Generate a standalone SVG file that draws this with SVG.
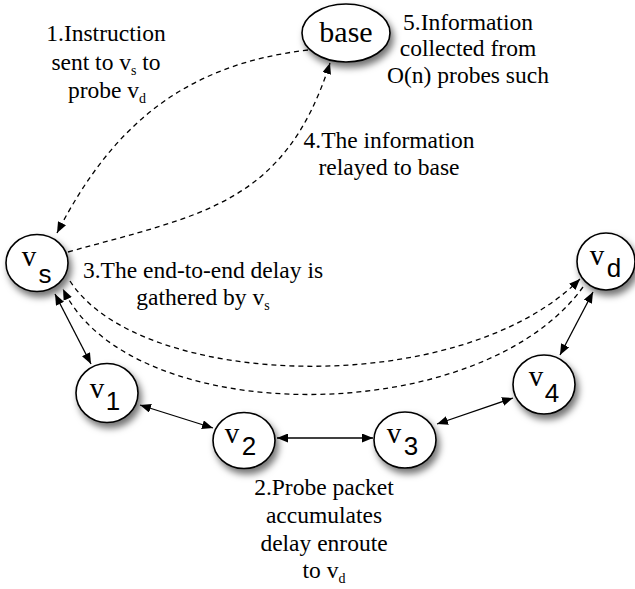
<svg xmlns="http://www.w3.org/2000/svg" width="635" height="589" viewBox="0 0 635 589">
  <style>
    .node { fill: #fff; stroke: #000; stroke-width: 1.6; filter: url(#shadow); }
    .nv { font-family: "Liberation Serif", "Times New Roman", serif; font-size: 29px; text-anchor: middle; fill: #000; }
    .ns { font-family: "Liberation Sans", Arial, sans-serif; font-size: 26px; text-anchor: middle; fill: #000; }
    .lbl { font-family: "Liberation Serif", "Times New Roman", serif; font-size: 23.5px; text-anchor: middle; fill: #000; }
    .sub { font-size: 14px; }
    .link { fill: none; stroke: #000; stroke-width: 1.3; marker-start: url(#head); marker-end: url(#head); }
    .dash { fill: none; stroke: #000; stroke-width: 1.3; stroke-dasharray: 5 4; marker-end: url(#head); }
  </style>
  <defs>
    <filter id="shadow" x="-40%" y="-40%" width="200%" height="200%">
      <feDropShadow dx="3" dy="5" stdDeviation="3.5" flood-color="#000" flood-opacity="0.55"/>
    </filter>
    <marker id="head" markerUnits="userSpaceOnUse" markerWidth="11" markerHeight="9" refX="11" refY="4.5" orient="auto-start-reverse">
      <path d="M0,0 L11,4.5 L0,9 z" fill="#000" stroke="none"/>
    </marker>
  </defs>

  <rect width="635" height="589" fill="#fff"/>

  <!-- connectors -->
  <g id="connectors">
    <line class="link" x1="55" y1="294" x2="91" y2="364"/>
    <line class="link" x1="140" y1="405" x2="213" y2="428"/>
    <line class="link" x1="277" y1="438" x2="373" y2="438"/>
    <line class="link" x1="437" y1="424" x2="513" y2="398"/>
    <line class="link" x1="560" y1="355" x2="593" y2="292"/>
    <!-- base to vs -->
    <path class="dash" d="M308,50 C180,65 110,130 57,233"/>
    <!-- vs to base -->
    <path class="dash" d="M68,252 C200,215 285,205 330,63"/>
    <!-- vs to vd -->
    <path class="dash" d="M70,281 C140,390 460,400 580,279"/>
    <!-- vd to vs -->
    <path class="dash" d="M583,287 C480,430 130,430 63,289"/>
  </g>

  <!-- nodes -->
  <g id="base">
    <ellipse class="node" cx="346" cy="33" rx="44" ry="29"/>
    <text x="346" y="42" class="nv" style="font-size:30px">base</text>
  </g>
  <g id="vs">
    <ellipse class="node" cx="37" cy="263" rx="31" ry="28.5"/>
    <text x="29" y="266" class="nv">v</text>
    <text x="45" y="283" class="ns">s</text>
  </g>
  <g id="vd">
    <ellipse class="node" cx="606" cy="261.5" rx="29" ry="28.5"/>
    <text x="597" y="265" class="nv">v</text>
    <text x="614" y="277" class="ns">d</text>
  </g>
  <g id="v1">
    <ellipse class="node" cx="107" cy="393" rx="31" ry="29.5"/>
    <text x="97" y="398" class="nv">v</text>
    <text x="113" y="410" class="ns">1</text>
  </g>
  <g id="v2">
    <ellipse class="node" cx="244" cy="440.5" rx="31" ry="28"/>
    <text x="232" y="443" class="nv">v</text>
    <text x="249" y="455" class="ns">2</text>
  </g>
  <g id="v3">
    <ellipse class="node" cx="405" cy="440" rx="31" ry="28"/>
    <text x="394" y="443" class="nv">v</text>
    <text x="411" y="455" class="ns">3</text>
  </g>
  <g id="v4">
    <ellipse class="node" cx="544" cy="384.5" rx="31" ry="29.5"/>
    <text x="536" y="386" class="nv">v</text>
    <text x="552" y="402" class="ns">4</text>
  </g>

  <!-- step labels -->
  <g id="label1" class="lbl">
    <text x="106" y="41">1.Instruction</text>
    <text x="106" y="70">sent to v<tspan class="sub" dy="5">s</tspan><tspan dy="-5"> to</tspan></text>
    <text x="107" y="98">probe v<tspan class="sub" dy="5">d</tspan></text>
  </g>
  <g id="label5" class="lbl">
    <text x="468" y="30">5.Information</text>
    <text x="468" y="56">collected from</text>
    <text x="468" y="83">O(n) probes such</text>
  </g>
  <g id="label4" class="lbl">
    <text x="389" y="148">4.The information</text>
    <text x="389" y="175">relayed to base</text>
  </g>
  <g id="label3" class="lbl">
    <text x="203" y="278">3.The end-to-end delay is</text>
    <text x="203" y="305">gathered by v<tspan class="sub" dy="5">s</tspan></text>
  </g>
  <g id="label2" class="lbl">
    <text x="324" y="495">2.Probe packet</text>
    <text x="324" y="523">accumulates</text>
    <text x="324" y="551">delay enroute</text>
    <text x="324" y="578">to v<tspan class="sub" dy="5">d</tspan></text>
  </g>
</svg>
